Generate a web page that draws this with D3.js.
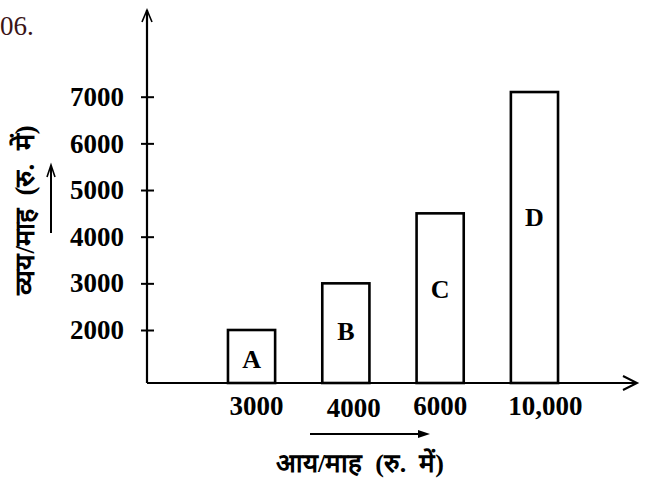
<!DOCTYPE html>
<html>
<head>
<meta charset="utf-8">
<script src="https://cdn.jsdelivr.net/npm/d3@7"></script>
<style>
  body { margin: 0; background: #fff; }
  text { font-family: "Liberation Serif", "DejaVu Serif", serif; }
  .title { white-space: pre; }
</style>
</head>
<body>
<svg id="chart" width="648" height="481"></svg>
<script>
  /* Data */
  var categories = ["A", "B", "C", "D"];
  var incomeLabels = ["3000", "4000", "6000", "10,000"];
  var expenses = [2000, 3000, 4500, 7100];
  var yTicks = [2000, 3000, 4000, 5000, 6000, 7000];
  var xTitle = "आय/माह  (रु.  में)";
  var yTitle = "व्यय/माह  (रु.  में)";

  /* small nudges of the income labels, as printed */
  var labelDx = [5, 8, 0, 11];
  var labelDy = [0, 2, 0, 0];

  /* SVG properties */
  var width = 648, height = 481;
  var originX = 147, baseY = 383;

  var svg = d3.select("#chart");

  var x = d3.scaleBand()
            .domain(categories)
            .range([204.4, 581.6])
            .paddingInner(0.5)
            .paddingOuter(0.25);
  var y = d3.scaleLinear()
            .domain([2000, 7000])
            .range([330, 96.7]);

  /* question number */
  svg.append("text")
     .attr("x", 0).attr("y", 35)
     .attr("font-size", 27)
     .attr("fill", "#3a1418")
     .text("06.");

  /* bars */
  svg.selectAll("rect.bar")
     .data(expenses)
     .enter()
     .append("rect")
     .attr("class", "bar")
     .attr("x", function(d, i) { return x(categories[i]); })
     .attr("y", function(d) { return y(d); })
     .attr("width", x.bandwidth())
     .attr("height", function(d) { return baseY - y(d); })
     .attr("fill", "#fff")
     .attr("stroke", "#000")
     .attr("stroke-width", 2.6);

  svg.selectAll("text.letter")
     .data(expenses)
     .enter()
     .append("text")
     .attr("class", "letter")
     .attr("x", function(d, i) { return x(categories[i]) + x.bandwidth() / 2; })
     .attr("y", function(d) { return y(d) + 0.4 * (baseY - y(d)) + 8; })
     .attr("dy", "0.35em")
     .attr("text-anchor", "middle")
     .attr("font-size", 26)
     .attr("font-weight", "bold")
     .text(function(d, i) { return categories[i]; });

  /* y axis ticks */
  var yAxis = d3.axisLeft(y).tickValues(yTicks).tickSize(0).tickPadding(23)
                .tickFormat(d3.format("d"));
  var gy = svg.append("g")
              .attr("transform", "translate(" + originX + ",0)")
              .call(yAxis);
  gy.select(".domain").remove();
  gy.selectAll(".tick line")
    .attr("x1", -6).attr("x2", 7)
    .attr("stroke", "#000").attr("stroke-width", 2);
  gy.selectAll(".tick text")
    .attr("font-family", "Liberation Serif")
    .attr("font-size", 27)
    .attr("font-weight", "bold")
    .attr("fill", "#000");

  /* axes with arrows */
  svg.append("line")
     .attr("x1", originX).attr("y1", baseY)
     .attr("x2", originX).attr("y2", 10)
     .attr("stroke", "#000").attr("stroke-width", 2.2);
  svg.append("path")
     .attr("d", "M" + (originX - 5) + ",22 L" + originX + ",10 L" + (originX + 5) + ",22")
     .attr("fill", "none").attr("stroke", "#000").attr("stroke-width", 1.6);

  svg.append("line")
     .attr("x1", originX).attr("y1", baseY)
     .attr("x2", 636).attr("y2", baseY)
     .attr("stroke", "#000").attr("stroke-width", 2.2);
  svg.append("path")
     .attr("d", "M623," + (baseY - 7) + " L637," + baseY + " L623," + (baseY + 7))
     .attr("fill", "none").attr("stroke", "#000").attr("stroke-width", 2);

  /* income labels */
  svg.selectAll("text.inc")
     .data(incomeLabels)
     .enter()
     .append("text")
     .attr("class", "inc")
     .attr("x", function(d, i) { return x(categories[i]) + x.bandwidth() / 2 + labelDx[i]; })
     .attr("y", function(d, i) { return 415 + labelDy[i]; })
     .attr("text-anchor", "middle")
     .attr("font-size", 27)
     .attr("font-weight", "bold")
     .text(function(d) { return d; });

  /* x title with arrow */
  svg.append("line")
     .attr("x1", 310).attr("y1", 434).attr("x2", 426).attr("y2", 434)
     .attr("stroke", "#000").attr("stroke-width", 2);
  svg.append("path")
     .attr("d", "M418,430 L430,434 L418,438 Z")
     .attr("fill", "#000");
  svg.append("text")
     .attr("class", "title")
     .attr("x", 360).attr("y", 472)
     .attr("text-anchor", "middle")
     .attr("font-size", 26)
     .attr("font-weight", "bold")
     .attr("font-family", "'Noto Sans', 'Lohit Devanagari', 'Mangal', sans-serif")
     .text(xTitle);

  /* y title with arrow */
  svg.append("line")
     .attr("x1", 51).attr("y1", 233).attr("x2", 51).attr("y2", 167)
     .attr("stroke", "#000").attr("stroke-width", 2);
  svg.append("path")
     .attr("d", "M47,177 L51,165 L55,177")
     .attr("fill", "none").attr("stroke", "#000").attr("stroke-width", 1.6);
  svg.append("text")
     .attr("class", "title")
     .attr("transform", "translate(34,210) rotate(-90)")
     .attr("text-anchor", "middle")
     .attr("font-size", 27)
     .attr("font-weight", "bold")
     .attr("font-family", "'Noto Sans', 'Lohit Devanagari', 'Mangal', sans-serif")
     .text(yTitle);
</script>
</body>
</html>
